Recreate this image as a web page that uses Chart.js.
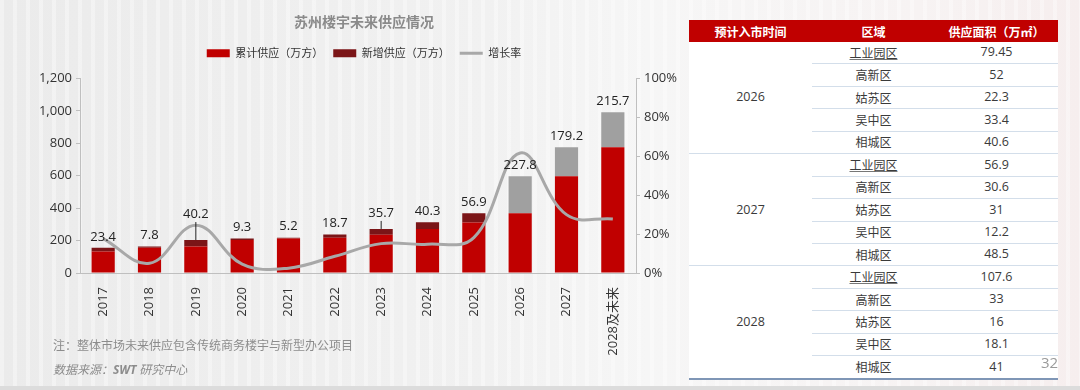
<!DOCTYPE html>
<html>
<head>
<meta charset="utf-8">
<script src="https://cdn.jsdelivr.net/npm/chart.js@4.4.1/dist/chart.umd.min.js"></script>
<style>
    body {
        margin: 0;
        width: 1080px;
        height: 390px;
        overflow: hidden;
        position: relative;
        font-family: "Noto Sans CJK SC", sans-serif;
        background:
            repeating-linear-gradient(90deg, rgba(255,255,255,0.35) 0 4px, rgba(255,255,255,0) 4px 13px),
            linear-gradient(90deg, #ebebeb 0%, #f1f1f1 45%, #f6f6f6 60%, #f7f3f3 85%, #f6eeee 100%);
    }
    #chartBox { position: absolute; left: 0; top: 0; width: 728px; height: 390px; }
    .note { position: absolute; left: 53px; top: 336px; font-size: 12px; color: #8c8c8c; }
    .src { position: absolute; left: 53px; top: 360px; font-size: 12px; color: #8c8c8c; font-style: italic; }
    .src b { font-family: "Open Sans", sans-serif; }
    .bottomLine { position: absolute; left: 0; top: 386px; width: 1080px; height: 4px; background: #dcdcdc; }
    .page { position: absolute; left: 1041px; top: 352px; font-size: 15px; color: #9a9a9a; font-family: "Open Sans", sans-serif; }
    table {
        position: absolute; left: 689px; top: 20px; width: 369px;
        border-collapse: collapse; table-layout: fixed; background: #fff;
        font-size: 12px; color: #3a3a3a; text-align: center;
    }
    th { background: #c00000; color: #fff; height: 22px; padding: 0; font-weight: bold; }
    td { height: 21.45px; padding: 0; line-height: 1; }
    td.num { font-family: "Open Sans", "Noto Sans CJK SC", sans-serif; font-size: 12.5px; }
    tr.row td.c2, tr.row td.c3 { border-top: 1px solid #d3deea; }
    tr.grp td { border-top: 1px solid #d3deea; }
    tr.last td { border-bottom: 2px solid #7f96b6; }
    .u { text-decoration: underline; text-decoration-color: #777; }
</style>
</head>
<body>
<div id="chartBox"><canvas id="supplyChart"></canvas></div>
<div class="note">注：整体市场未来供应包含传统商务楼宇与新型办公项目</div>
<div class="src">数据来源：<b>SWT</b> 研究中心</div>
<div class="bottomLine"></div>

<table id="supplyTable">
    <thead><tr><th>预计入市时间</th><th>区域</th><th>供应面积（万㎡）</th></tr></thead>
    <tbody></tbody>
</table>
<div class="page">32</div>

<script>
// Chart data
const years = ['2017', '2018', '2019', '2020', '2021', '2022', '2023', '2024', '2025', '2026', '2027', '2028及未来'];
const baseSupply = [132, 155, 163, 203, 212, 218, 236, 272, 312, 369, 597, 776];
const newSupply = [23.4, 7.8, 40.2, 9.3, 5.2, 18.7, 35.7, 40.3, 56.9, null, null, null];
const futureSupply = [null, null, null, null, null, null, null, null, null, 227.8, 179.2, 215.7];
const growthRate = [17.7, 5.0, 24.6, 4.6, 2.5, 8.6, 15.1, 14.8, 18.2, 61.7, 30.0, 27.8];
const supplyTicks = [0, 200, 400, 600, 800, 1000, 1200];
const rateTicks = [0, 20, 40, 60, 80, 100];

// Table data
const tableYears = ['2026', '2027', '2028'];
const districts = ['工业园区', '高新区', '姑苏区', '吴中区', '相城区'];
const area2026 = ['79.45', '52', '22.3', '33.4', '40.6'];
const area2027 = ['56.9', '30.6', '31', '12.2', '48.5'];
const area2028 = ['107.6', '33', '16', '18.1', '41'];

// Build table
const tbody = document.querySelector('#supplyTable tbody');
[area2026, area2027, area2028].forEach((areas, g) => {
    districts.forEach((d, i) => {
        const tr = document.createElement('tr');
        tr.className = i === 0 ? (g === 0 ? '' : 'grp') : 'row';
        if (g === 2 && i === 4) tr.className += ' last';
        let html = '';
        if (i === 0) html += `<td rowspan="5" class="num" style="border-bottom:${g === 2 ? '2px solid #7f96b6' : '0'}">${tableYears[g]}</td>`;
        html += `<td class="c2"><span class="${i === 0 ? 'u' : ''}">${d}</span></td>`;
        html += `<td class="c3 num">${areas[i]}</td>`;
        tr.innerHTML = html;
        tbody.appendChild(tr);
    });
});

// Value labels above each stack
const valueLabels = {
    id: 'valueLabels',
    afterDatasetsDraw(chart, args, opts) {
        const ctx = chart.ctx;
        ctx.save();
        ctx.font = '13px "Open Sans", sans-serif';
        ctx.fillStyle = '#222';
        ctx.strokeStyle = '#222';
        ctx.lineWidth = 1;
        ctx.textAlign = 'center';
        ctx.textBaseline = 'middle';
        years.forEach((y, i) => {
            const dsIndex = newSupply[i] !== null ? 1 : 2;
            const bar = chart.getDatasetMeta(dsIndex).data[i];
            const value = dsIndex === 1 ? newSupply[i] : futureSupply[i];
            const lift = opts.lift[i] || opts.defaultLift;
            ctx.fillText(value.toFixed(1), bar.x, bar.y - lift);
            if (lift > 14) {
                ctx.beginPath();
                ctx.moveTo(bar.x, bar.y - lift + 8);
                ctx.lineTo(bar.x, bar.y);
                ctx.stroke();
            }
        });
        ctx.restore();
    }
};

const ctx = document.getElementById('supplyChart').getContext('2d');
const supplyChart = new Chart(ctx, {
    type: 'bar',
    data: {
        labels: years,
        datasets: [{
            label: '累计供应（万方）',
            data: baseSupply,
            backgroundColor: '#c00000',
            pointStyle: 'rect',
            stack: 's',
            order: 1
        }, {
            label: '新增供应（万方）',
            data: newSupply,
            backgroundColor: '#7b1517',
            pointStyle: 'rect',
            stack: 's',
            order: 1
        }, {
            label: '未来供应',
            data: futureSupply,
            backgroundColor: '#a0a0a0',
            pointStyle: 'rect',
            stack: 's',
            order: 1
        }, {
            type: 'line',
            label: '增长率',
            data: growthRate,
            yAxisID: 'y1',
            borderColor: '#a8a8a8',
            backgroundColor: '#a8a8a8',
            borderWidth: 3,
            pointRadius: 0,
            pointStyle: 'line',
            tension: 0.4,
            order: 0
        }]
    },
    options: {
        responsive: true,
        maintainAspectRatio: false,
        animation: false,
        datasets: {
            bar: { barPercentage: 0.5, categoryPercentage: 1 }
        },
        plugins: {
            title: {
                display: true,
                text: '苏州楼宇未来供应情况',
                color: '#8a8a8a',
                font: { size: 14, weight: 'bold', family: '"Noto Sans CJK SC", sans-serif' },
                padding: { top: 13, bottom: 8 }
            },
            // empty spacer between legend and plot area
            subtitle: {
                display: true,
                text: ' ',
                weight: 500,
                font: { size: 8 },
                padding: 0
            },
            legend: {
                labels: {
                    usePointStyle: true,
                    pointStyleWidth: 23,
                    boxHeight: 8,
                    padding: 10,
                    color: '#333',
                    font: { size: 11, family: '"Noto Sans CJK SC", sans-serif' },
                    filter: item => item.datasetIndex !== 2,
                    sort: (a, b) => a.datasetIndex - b.datasetIndex
                }
            },
            tooltip: { enabled: false },
            valueLabels: { defaultLift: 11, lift: { 2: 26, 6: 16 } }
        },
        scales: {
            x: {
                stacked: true,
                grid: { display: false },
                border: { color: '#bfbfbf' },
                ticks: {
                    minRotation: 90, maxRotation: 90, padding: 6,
                    color: '#333',
                    font: { size: 13, family: '"Open Sans", "Noto Sans CJK SC", sans-serif' }
                },
                afterFit: s => { s.height = 117; }
            },
            y: {
                stacked: true,
                min: supplyTicks[0],
                max: supplyTicks[supplyTicks.length - 1],
                grid: { display: true, drawOnChartArea: false, tickLength: 4, color: '#bfbfbf' },
                border: { color: '#bfbfbf' },
                ticks: {
                    stepSize: supplyTicks[1] - supplyTicks[0],
                    color: '#333',
                    padding: 4,
                    font: { size: 13, family: '"Open Sans", sans-serif' },
                    callback: v => v.toLocaleString('en-US')
                },
                afterFit: s => { s.width = 80; }
            },
            y1: {
                position: 'right',
                min: rateTicks[0],
                max: rateTicks[rateTicks.length - 1],
                grid: { display: true, drawOnChartArea: false, tickLength: 4, color: '#bfbfbf' },
                border: { color: '#bfbfbf' },
                ticks: {
                    stepSize: rateTicks[1] - rateTicks[0],
                    color: '#333',
                    padding: 4,
                    font: { size: 13, family: '"Open Sans", sans-serif' },
                    callback: v => v + '%'
                },
                afterFit: s => { s.width = 92; }
            }
        }
    },
    plugins: [valueLabels]
});
</script>
</body>
</html>
